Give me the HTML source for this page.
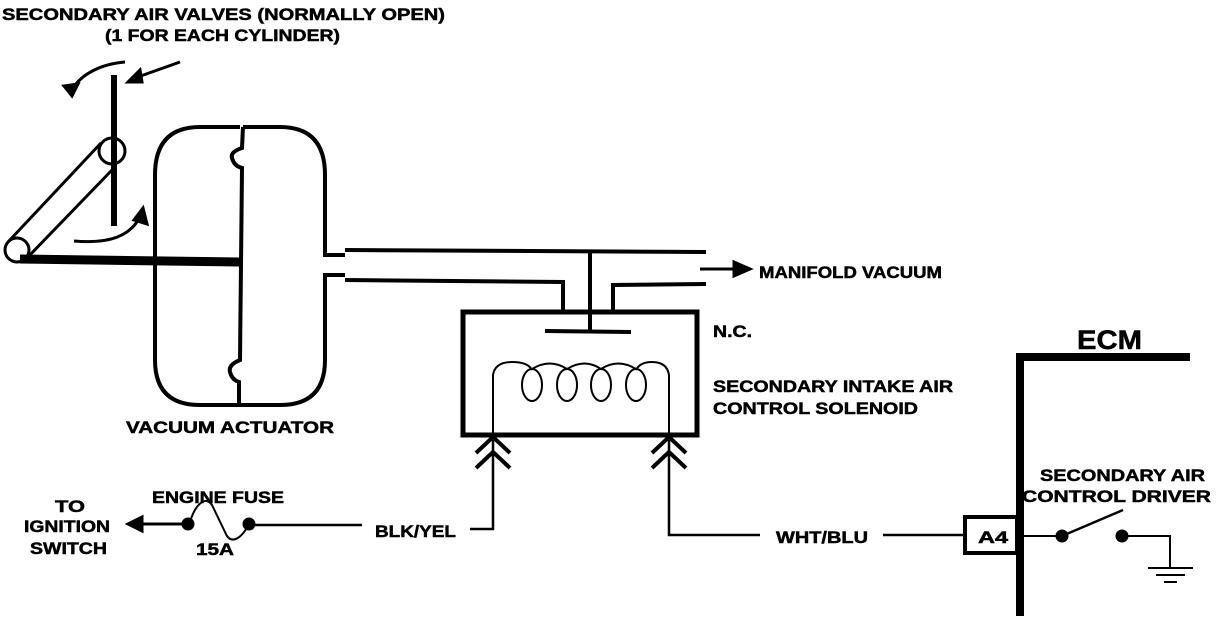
<!DOCTYPE html>
<html><head><meta charset="utf-8"><style>
html,body{margin:0;padding:0;background:#fff}
svg{display:block}
text{font-family:"Liberation Sans",sans-serif;font-weight:bold;fill:#000;stroke:#000;stroke-width:0.5}
</style></head><body>
<svg width="1216" height="628" viewBox="0 0 1216 628" xmlns="http://www.w3.org/2000/svg">
<g fill="none" stroke="#000" stroke-width="3">
<line x1="114" y1="75" x2="114" y2="226" stroke-width="6"/>
<circle cx="112" cy="151" r="13"/>
<circle cx="17" cy="250" r="12"/>
<line x1="8" y1="242" x2="101" y2="143"/>
<line x1="27" y1="258" x2="112" y2="170"/>
<path d="M20 259 L240 262" stroke-width="9"/>
<path d="M125 62 C100 64 80 75 72 90"/>
<path d="M72 96 L64 86 L78 84 Z" fill="#000"/>
<path d="M180 62 L135 78"/>
<path d="M128 82 L140 70 L142 82 Z" fill="#000"/>
<path d="M74 241 C110 244 130 236 140 217"/>
<path d="M143 208 L147 224 L134 220 Z" fill="#000"/>
<g stroke-width="4">
<path d="M240 127 L200 127 Q155 127 155 175 L155 360 Q155 405 200 405 L240 405"/>
<path d="M243 127 L280 127 Q325 127 325 175 L325 255 L345 255"/>
<path d="M345 275 L325 275 L325 360 Q325 405 280 405 L240 405"/>
<path d="M243 127 L242 148 Q230 152 232 158 Q234 166 242 168 L240 360 Q228 365 230 372 Q232 380 239 382 L239 405"/>
</g>
<line x1="345" y1="250" x2="706" y2="252" stroke-width="4"/>
<path d="M345 280 L563 282 L563 311" stroke-width="4"/>
<path d="M706 284 L613 285 L613 311" stroke-width="4"/>
<line x1="590" y1="252" x2="590" y2="330" stroke-width="4"/>
<line x1="545" y1="331" x2="631" y2="332" stroke-width="4"/>
<line x1="700" y1="269" x2="740" y2="269"/>
<path d="M750 269 L734 262 L734 276 Z" fill="#000"/>
<rect x="463" y="312" width="234" height="123" stroke-width="5"/>
<path d="M493 435 L493 375 Q495 362 512 362 Q528 362 532 370" stroke-width="2"/>
<path d="M669 435 L669 375 Q667 362 652 362 Q640 362 636 370" stroke-width="2"/>
<ellipse cx="532" cy="385" rx="10" ry="16" stroke-width="2"/>
<ellipse cx="567" cy="385" rx="10" ry="16" stroke-width="2"/>
<ellipse cx="601" cy="385" rx="10" ry="16" stroke-width="2"/>
<ellipse cx="636" cy="385" rx="10" ry="16" stroke-width="2"/>
<path d="M532 369 Q550 358 567 369 Q585 358 601 369 Q618 358 636 369" stroke-width="2"/>
<path d="M476 453 L493 437 L510 453 M476 468 L493 452 L510 468" stroke-width="4"/>
<path d="M652 453 L669 437 L686 453 M652 468 L669 452 L686 468" stroke-width="4"/>
<path d="M493 440 L493 529 L470 529" stroke-width="2.5"/>
<path d="M669 440 L669 535 L760 535" stroke-width="2.5"/>
<line x1="883" y1="535" x2="965" y2="535" stroke-width="2.5"/>
<line x1="135" y1="524" x2="188" y2="524" stroke-width="3"/>
<path d="M128 524 L142 517 L142 531 Z" fill="#000"/>
<path d="M190 522 C195 505 205 495 212 505 L225 532 C230 545 240 540 248 526" stroke-width="2"/>
<circle cx="188" cy="524" r="5" fill="#000"/>
<circle cx="249" cy="524" r="5" fill="#000"/>
<line x1="249" y1="525" x2="362" y2="525" stroke-width="2.5"/>
<path d="M1020 616 L1020 357 L1190 357" stroke-width="8"/>
<rect x="965" y="517" width="52" height="36" stroke-width="4"/>
<line x1="1020" y1="536" x2="1062" y2="536" stroke-width="2"/>
<circle cx="1062" cy="536" r="5" fill="#000"/>
<line x1="1062" y1="536" x2="1123" y2="510" stroke-width="2.5"/>
<circle cx="1122" cy="536" r="5" fill="#000"/>
<path d="M1122 536 L1170 536 L1170 568" stroke-width="2"/>
<line x1="1148" y1="568" x2="1193" y2="568" stroke-width="2"/>
<line x1="1156" y1="575" x2="1185" y2="575" stroke-width="2"/>
<line x1="1164" y1="582" x2="1177" y2="582" stroke-width="2"/>
</g>
<g font-size="17">
<text x="2" y="20" textLength="443" lengthAdjust="spacingAndGlyphs">SECONDARY AIR VALVES (NORMALLY OPEN)</text>
<text x="105" y="41" textLength="235" lengthAdjust="spacingAndGlyphs">(1 FOR EACH CYLINDER)</text>
<text x="126" y="433" textLength="208" lengthAdjust="spacingAndGlyphs">VACUUM ACTUATOR</text>
<text x="759" y="278" textLength="183" lengthAdjust="spacingAndGlyphs">MANIFOLD VACUUM</text>
<text x="713" y="337" textLength="39" lengthAdjust="spacingAndGlyphs">N.C.</text>
<text x="713" y="392" textLength="240" lengthAdjust="spacingAndGlyphs">SECONDARY INTAKE AIR</text>
<text x="713" y="414" textLength="205" lengthAdjust="spacingAndGlyphs">CONTROL SOLENOID</text>
<text x="152" y="503" textLength="132" lengthAdjust="spacingAndGlyphs">ENGINE FUSE</text>
<text x="196" y="555" textLength="38" lengthAdjust="spacingAndGlyphs">15A</text>
<text x="55" y="512" textLength="30" lengthAdjust="spacingAndGlyphs">TO</text>
<text x="24" y="532" textLength="86" lengthAdjust="spacingAndGlyphs">IGNITION</text>
<text x="30" y="554" textLength="77" lengthAdjust="spacingAndGlyphs">SWITCH</text>
<text x="375" y="537" textLength="81" lengthAdjust="spacingAndGlyphs">BLK/YEL</text>
<text x="776" y="543" textLength="92" lengthAdjust="spacingAndGlyphs">WHT/BLU</text>
<text x="1040" y="481" textLength="165" lengthAdjust="spacingAndGlyphs">SECONDARY AIR</text>
<text x="1022" y="502" textLength="189" lengthAdjust="spacingAndGlyphs">CONTROL DRIVER</text>
<text x="978" y="543" textLength="30" lengthAdjust="spacingAndGlyphs">A4</text>
</g>
<text x="1077" y="349" font-size="27" textLength="65" lengthAdjust="spacingAndGlyphs">ECM</text>
</svg>
</body></html>
